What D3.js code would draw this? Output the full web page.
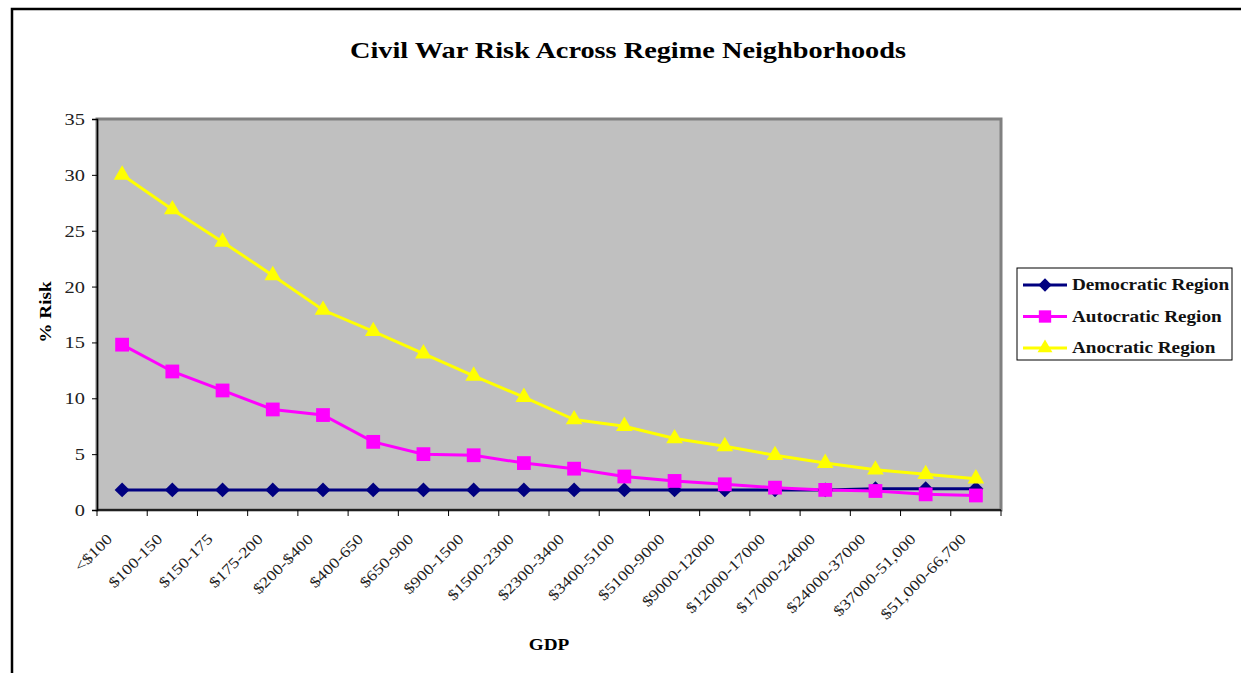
<!DOCTYPE html>
<html>
<head>
<meta charset="utf-8">
<script src="https://cdn.jsdelivr.net/npm/d3@7"></script>
<style>
  body { margin: 0; background: #fff; }
  svg text { font-family: "Liberation Serif", "DejaVu Serif", serif; }
</style>
</head>
<body>
<div id="chart"></div>
<script>
var categories = ["<$100", "$100-150", "$150-175", "$175-200", "$200-$400", "$400-650",
    "$650-900", "$900-1500", "$1500-2300", "$2300-3400", "$3400-5100", "$5100-9000",
    "$9000-12000", "$12000-17000", "$17000-24000", "$24000-37000", "$37000-51,000",
    "$51,000-66,700"];
var democratic = [1.8, 1.8, 1.8, 1.8, 1.8, 1.8, 1.8, 1.8, 1.8, 1.8, 1.8, 1.8, 1.8, 1.8, 1.8, 1.9, 1.9, 1.9];
var autocratic = [14.8, 12.4, 10.7, 9.0, 8.5, 6.1, 5.0, 4.9, 4.2, 3.7, 3.0, 2.6, 2.3, 2.0, 1.8, 1.7, 1.4, 1.3];
var anocratic  = [30.0, 26.9, 24.0, 21.0, 17.9, 16.0, 14.0, 12.0, 10.1, 8.1, 7.5, 6.4, 5.7, 4.9, 4.2, 3.6, 3.2, 2.8];
var yTicks = [0, 5, 10, 15, 20, 25, 30, 35];
var seriesNames = ["Democratic Region", "Autocratic Region", "Anocratic Region"];

// the original font is a wide Garamond; stretch Liberation Serif sideways to match
var WIDE = 1.2;

function init(){
    var W = 1241, H = 673;
    var left = 97, right = 1001, top = 119, bottom = 510;

    var svg = d3.select("#chart").append("svg")
                .attr("width", W)
                .attr("height", H);

    // outer chart frame (runs off the page to the right and bottom)
    svg.append("rect")
        .attr("x", 12).attr("y", 9)
        .attr("width", W + 20).attr("height", H + 20)
        .attr("fill", "#fff")
        .attr("stroke", "#000")
        .attr("stroke-width", 2.5);

    var xScale = d3.scaleBand()
                    .domain(categories)
                    .range([left, right]);
    var yScale = d3.scaleLinear()
                    .domain([0, 35])
                    .range([bottom, top]);

    // plot area
    svg.append("rect")
        .attr("x", left).attr("y", top)
        .attr("width", right - left).attr("height", bottom - top)
        .attr("fill", "#c0c0c0")
        .attr("stroke", "#808080")
        .attr("stroke-width", 3);

    // y axis
    var yAxis = svg.append("g")
        .attr("transform", "translate(" + left + ",0)")
        .call(d3.axisLeft(yScale).tickValues(yTicks).tickSize(5).tickPadding(8));
    yAxis.select(".domain").attr("stroke", "#000").attr("stroke-width", 1.5);
    yAxis.selectAll("line").attr("stroke", "#000");
    yAxis.selectAll("text")
        .attr("x", 0)
        .attr("transform", "translate(-12,0) scale(" + WIDE + ",1)")
        .attr("font-size", "17px")
        .attr("fill", "#222")
        .style("font-family", "Liberation Serif, serif");

    // x axis: ticks sit on band edges
    var xAxis = svg.append("g")
        .attr("transform", "translate(0," + bottom + ")");
    xAxis.append("line")
        .attr("x1", left).attr("x2", right)
        .attr("stroke", "#000").attr("stroke-width", 1.5);
    var edges = categories.map(function(c){ return xScale(c); }).concat([right]);
    xAxis.selectAll(".edge")
        .data(edges)
        .enter()
        .append("line")
        .attr("x1", function(d){ return d; })
        .attr("x2", function(d){ return d; })
        .attr("y1", 0).attr("y2", 6)
        .attr("stroke", "#000");
    xAxis.selectAll(".lbl")
        .data(categories)
        .enter()
        .append("text")
        .attr("text-anchor", "end")
        .attr("font-size", "15px")
        .attr("fill", "#222")
        .attr("transform", function(d){
            var x = xScale(d) + xScale.bandwidth() / 2 - 9;
            return "translate(" + x + ",30) rotate(-45) scale(" + WIDE + ",1)";
        })
        .text(function(d){ return d; });

    // lines + markers
    var line = d3.line()
        .x(function(d, i){ return xScale(categories[i]) + xScale.bandwidth() / 2; })
        .y(function(d){ return yScale(d); });

    var series = [
        {name: seriesNames[0], values: democratic, color: "#000080", shape: d3.symbolSquare, size: 112, rot: 45},
        {name: seriesNames[1], values: autocratic, color: "#ff00ff", shape: d3.symbolSquare, size: 190, rot: 0},
        {name: seriesNames[2], values: anocratic,  color: "#ffff00", shape: d3.symbolTriangle, size: 120, rot: 0}
    ];

    series.forEach(function(s){
        svg.append("path")
            .datum(s.values)
            .attr("d", line)
            .attr("fill", "none")
            .attr("stroke", s.color)
            .attr("stroke-width", 3);
    });
    series.forEach(function(s){
        svg.selectAll(null)
            .data(s.values)
            .enter()
            .append("path")
            .attr("d", d3.symbol().type(s.shape).size(s.size))
            .attr("transform", function(d, i){
                var x = xScale(categories[i]) + xScale.bandwidth() / 2;
                return "translate(" + x + "," + yScale(d) + ") rotate(" + s.rot + ")";
            })
            .attr("fill", s.color);
    });

    // title
    svg.append("text")
        .attr("transform", "translate(628,58) scale(1.18,1)")
        .attr("text-anchor", "middle")
        .attr("font-size", "24px")
        .attr("font-weight", "bold")
        .text("Civil War Risk Across Regime Neighborhoods");

    // axis titles
    svg.append("text")
        .attr("transform", "translate(51,312) rotate(-90) scale(" + WIDE + ",1)")
        .attr("text-anchor", "middle")
        .attr("font-size", "16px")
        .attr("font-weight", "bold")
        .text("% Risk");
    svg.append("text")
        .attr("transform", "translate(549,650) scale(" + WIDE + ",1)")
        .attr("text-anchor", "middle")
        .attr("font-size", "16px")
        .attr("font-weight", "bold")
        .text("GDP");

    // legend
    var legend = svg.append("g").attr("transform", "translate(1017,268)");
    legend.append("rect")
        .attr("width", 215).attr("height", 92)
        .attr("fill", "#fff")
        .attr("stroke", "#000")
        .attr("stroke-width", 1);
    var items = legend.selectAll(".item")
        .data(series)
        .enter()
        .append("g")
        .attr("transform", function(d, i){ return "translate(0," + (17 + i * 31.5) + ")"; });
    items.append("line")
        .attr("x1", 6).attr("x2", 50)
        .attr("stroke", function(d){ return d.color; })
        .attr("stroke-width", 3);
    items.append("path")
        .attr("d", function(d){ return d3.symbol().type(d.shape).size(d.size * 0.8)(); })
        .attr("transform", function(d){ return "translate(28,0) rotate(" + d.rot + ")"; })
        .attr("fill", function(d){ return d.color; });
    items.append("text")
        .attr("transform", "translate(55,5) scale(" + WIDE + ",1)")
        .attr("font-size", "16px")
        .attr("font-weight", "bold")
        .attr("fill", "#111")
        .text(function(d){ return d.name; });
}

window.onload = init;
</script>
</body>
</html>
